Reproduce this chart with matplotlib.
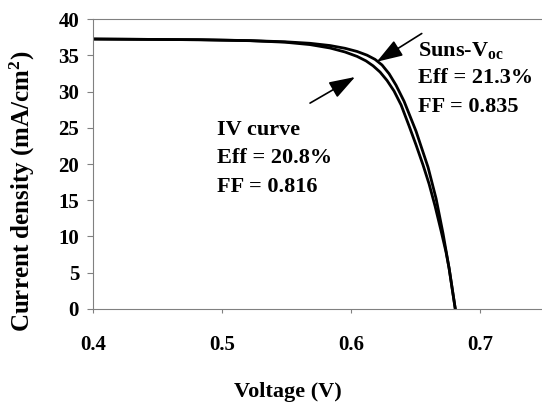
import matplotlib
matplotlib.use('Agg')
import matplotlib.pyplot as plt

plt.rcParams['font.family'] = ['Liberation Serif', 'DejaVu Serif']
plt.rcParams['font.weight'] = 'bold'
plt.rcParams['mathtext.default'] = 'regular'

# Suns-Voc curve (outer)
suns_v = [0.4000, 0.4829, 0.5217, 0.5488, 0.5682, 0.5837, 0.5953, 0.6047,
          0.6124, 0.6186, 0.6240, 0.6295, 0.6349, 0.6411, 0.6504, 0.6597,
          0.6659, 0.6713, 0.6760, 0.6806, 0.6808]
suns_j = [37.24, 37.14, 37.02, 36.86, 36.65, 36.34, 35.96, 35.52,
          35.01, 34.43, 33.66, 32.45, 30.86, 28.65, 24.51, 19.54,
          15.24, 10.41, 5.61, 0.23, 0.0]

# measured IV curve (inner)
iv_v = [0.4000, 0.4829, 0.5217, 0.5488, 0.5682, 0.5837, 0.5953, 0.6047,
        0.6116, 0.6171, 0.6225, 0.6279, 0.6333, 0.6388, 0.6450, 0.6504,
        0.6558, 0.6605, 0.6651, 0.6698, 0.6736, 0.6760, 0.6806, 0.6808]
iv_j = [37.24, 37.14, 37.01, 36.80, 36.47, 36.00, 35.45, 34.84,
        34.22, 33.54, 32.68, 31.52, 30.07, 28.14, 25.24, 22.62,
        19.86, 17.24, 14.21, 10.76, 7.86, 5.61, 0.23, 0.0]

suns_text = ['Suns-V$_{oc}$', 'Eff = 21.3%', 'FF = 0.835']
iv_text = ['IV curve', 'Eff = 20.8%', 'FF = 0.816']

fig = plt.figure(figsize=(5.42, 4.07), dpi=100)
ax = fig.add_axes([0.1716, 0.2408, 0.8284, 0.7125])

ax.plot(suns_v, suns_j, color='black', lw=2.0)
ax.plot(iv_v, iv_j, color='black', lw=2.0)

ax.set_xlim(0.4, 0.748)
ax.set_ylim(0, 40)
ax.set_xticks([0.4, 0.5, 0.6, 0.7])
ax.set_yticks(range(0, 41, 5))
ax.set_xticklabels(['0.4', '0.5', '0.6', '0.7'])

for s in ['top', 'bottom', 'left']:
    ax.spines[s].set_color('#808080')
    ax.spines[s].set_linewidth(0.8)
ax.spines['right'].set_visible(False)

ax.tick_params(axis='y', direction='out', length=4, width=0.8, color='#808080',
               pad=6, labelsize=15)
ax.tick_params(axis='x', direction='out', length=3, width=0.8, color='#808080',
               pad=16, labelsize=15)

ax.set_xlabel('Voltage (V)', fontsize=16, fontweight='bold')
ax.xaxis.set_label_coords(0.434, -0.252)
ax.set_ylabel('Current density (mA/cm$^2$)', fontsize=18, fontweight='bold')
ax.yaxis.set_label_coords(-0.125, 0.407)

# arrows
arrow_style = dict(arrowstyle='-|>,head_length=0.8,head_width=0.27',
                   mutation_scale=20, lw=1.2, color='black',
                   shrinkA=0, shrinkB=0)
ax.annotate('', xy=(0.6199, 34.1), xytext=(0.6548, 38.0), arrowprops=arrow_style)
ax.annotate('', xy=(0.6031, 32.0), xytext=(0.5682, 28.4), arrowprops=arrow_style)

for txt, yy in zip(suns_text, [35.7, 31.9, 27.9]):
    ax.text(0.6522, yy, txt, fontsize=16, fontweight='bold', va='center', ha='left')
for txt, yy in zip(iv_text, [24.7, 20.8, 16.8]):
    ax.text(0.4959, yy, txt, fontsize=16, fontweight='bold', va='center', ha='left')

fig.savefig('out.png', dpi=100)
